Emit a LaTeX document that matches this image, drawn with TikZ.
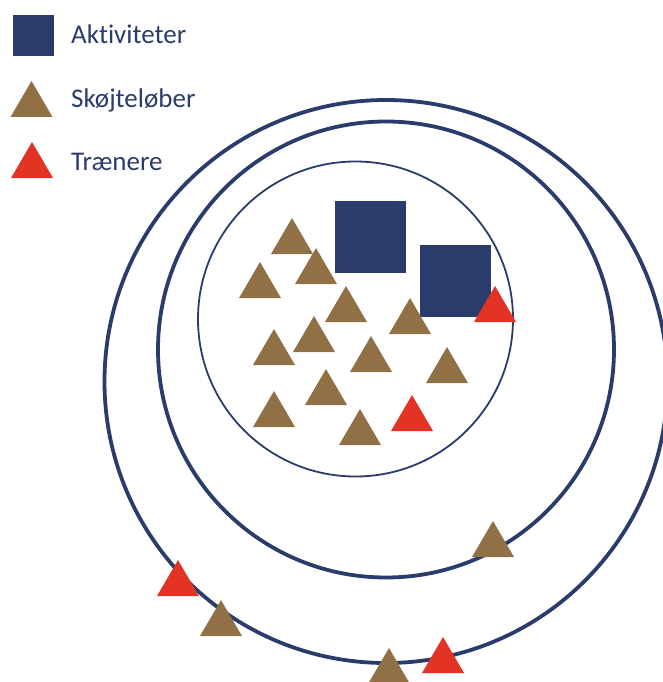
\documentclass[tikz,border=0pt]{standalone}
\usepackage{fontspec}
\setmainfont[Ligatures={NoCommon}]{Carlito}
\definecolor{navy}{RGB}{42,60,107}
\definecolor{skbrown}{RGB}{146,112,69}
\definecolor{trred}{RGB}{226,51,36}
\tikzset{
  ring/.style={draw=navy, line width=3.8pt},
  thinring/.style={draw=navy, line width=1.8pt},
  activity/.style={fill=navy},
  skater/.pic={\fill[skbrown] (0,0) -- (-21,36) -- (21,36) -- cycle;},
  coach/.pic={\fill[trred] (0,0) -- (-21,36) -- (21,36) -- cycle;},
  legendtext/.style={anchor=base west, inner sep=0pt, text=navy, font=\fontsize{27}{30}\selectfont}
}
\begin{document}
\begin{tikzpicture}[x=1pt,y=-1pt]
\useasboundingbox (0,0) rectangle (663,682);
% legend
\fill[activity] (13,15) rectangle (54,56);
\pic at (31.5,81) {skater};
\pic at (32,142) {coach};
\node[legendtext] (lA) at (71,44) {Aktiviteter};
\node[legendtext] (lS) at (71,107) {Skøjteløber};
\node[legendtext] (lT) at (71,170) {Trænere};
% rings
\draw[ring] (386,381.5) circle[radius=281.5];
\draw[ring] (386,349.5) circle[radius=228];
\draw[thinring] (355.5,319) circle[radius=157.5];
% activities
\fill[activity] (335,201) rectangle (406,273);
\fill[activity] (420,245) rectangle (491,317);
% skaters inside
\pic at (292,218) {skater};
\pic at (316,248) {skater};
\pic at (260,262) {skater};
\pic at (346,286) {skater};
\pic at (410,298) {skater};
\pic at (314,316) {skater};
\pic at (274,329) {skater};
\pic at (371,336) {skater};
\pic at (447,347) {skater};
\pic at (326,369) {skater};
\pic at (274,391) {skater};
\pic at (360,409) {skater};
% coaches inside
\pic at (495,286) {coach};
\pic at (412,395) {coach};
% outside
\pic at (178,560) {coach};
\pic at (221,600) {skater};
\pic at (493,521) {skater};
\pic at (443,637) {coach};
\pic at (389,648) {skater};
\end{tikzpicture}
\end{document}
